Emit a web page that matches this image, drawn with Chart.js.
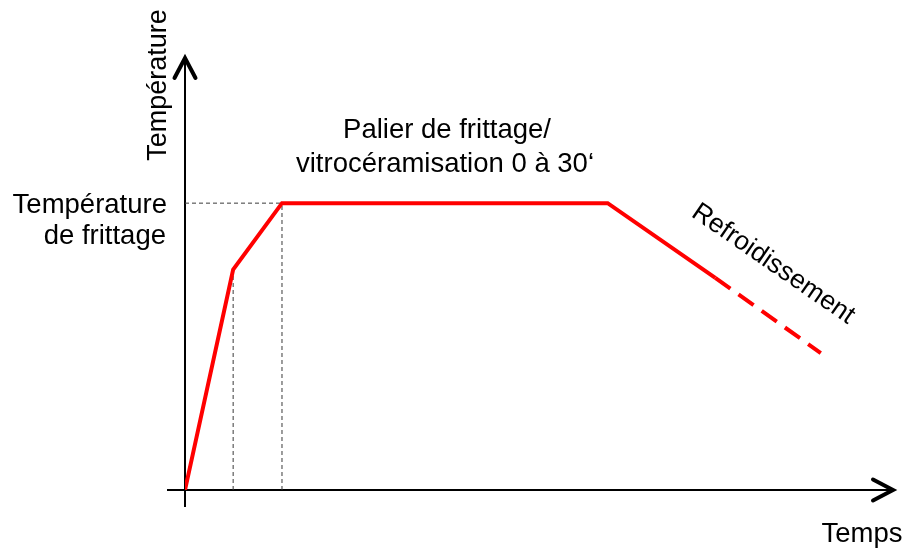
<!DOCTYPE html>
<html>
<head>
<meta charset="utf-8">
<script src="https://cdn.jsdelivr.net/npm/chart.js@4"></script>
<style>
  html, body { margin: 0; padding: 0; background: #fff; }
  #wrap { width: 907px; height: 550px; }
</style>
</head>
<body>
<div id="wrap"><canvas id="cycleChart" width="907" height="550"></canvas></div>
<script>
// cycle thermique (unités arbitraires : temps 0-100, température 0-100)
const tempsCycle = [0, 6.8, 13.7, 59.7, 74.9];
const tempCycle = [0, 51, 66.4, 66.4, 49.1];
const tempsRefroid = [74.9, 89.8];
const tempRefroid = [49.1, 31.7];
const tempsMax = 100;
const tempMax = 100;

const FONT = '"Liberation Sans", Arial, sans-serif';

const pts = (xs, ys) => xs.map((x, i) => ({ x: x, y: ys[i] }));

// lignes de rappel pointillées
const rappel1 = pts([tempsCycle[1], tempsCycle[1]], [0, tempCycle[1]]);
const rappel2 = pts([tempsCycle[2], tempsCycle[2]], [0, tempCycle[2]]);
const rappelH = pts([0, tempsCycle[2]], [tempCycle[2], tempCycle[2]]);

const guide = (data) => ({
    data: data,
    borderColor: '#3a3a3a',
    borderWidth: 1,
    borderDash: [4, 3],
    pointRadius: 0,
    order: 5
});

function arrowHead(ctx, x, y, dir) {
    ctx.save();
    ctx.lineWidth = 4;
    ctx.lineCap = 'round';
    ctx.lineJoin = 'miter';
    ctx.beginPath();
    if (dir === 'up') {
        ctx.moveTo(x - 10.5, y + 20);
        ctx.lineTo(x, y);
        ctx.lineTo(x + 10.5, y + 20);
    } else {
        ctx.moveTo(x - 20, y - 10.5);
        ctx.lineTo(x, y);
        ctx.lineTo(x - 20, y + 10.5);
    }
    ctx.stroke();
    ctx.restore();
}

function texteTourne(ctx, txt, x, y, angleDeg) {
    ctx.save();
    ctx.translate(x, y);
    ctx.rotate(angleDeg * Math.PI / 180);
    ctx.textAlign = 'center';
    ctx.fillText(txt, 0, 0);
    ctx.restore();
}

const axesEtTextes = {
    id: 'axesEtTextes',
    beforeDatasetsDraw(chart) {
        const ctx = chart.ctx;
        const sx = chart.scales.x, sy = chart.scales.y;
        const x0 = sx.getPixelForValue(0), y0 = sy.getPixelForValue(0);
        const xEnd = sx.getPixelForValue(tempsMax), yEnd = sy.getPixelForValue(tempMax);
        ctx.save();
        ctx.strokeStyle = '#000';
        ctx.lineWidth = 2;
        ctx.beginPath();
        ctx.moveTo(x0, y0 + 17);
        ctx.lineTo(x0, yEnd + 2);
        ctx.moveTo(x0 - 18, y0);
        ctx.lineTo(xEnd - 2, y0);
        ctx.stroke();
        arrowHead(ctx, x0, yEnd, 'up');
        arrowHead(ctx, xEnd, y0, 'right');
        ctx.restore();
    },
    afterDraw(chart) {
        const ctx = chart.ctx;
        ctx.save();
        ctx.fillStyle = '#000';
        ctx.font = '27.5px ' + FONT;
        ctx.textBaseline = 'alphabetic';

        ctx.textAlign = 'right';
        ctx.fillText('Température', 167, 213);
        ctx.fillText('de frittage', 166, 244);

        ctx.textAlign = 'center';
        ctx.fillText('Palier de frittage/', 447, 138);
        ctx.fillText('vitrocéramisation 0 à 30‘', 445, 172);
        ctx.fillText('Temps', 862, 542);

        ctx.font = '27px ' + FONT;
        texteTourne(ctx, 'Température', 166, 85, -90);

        ctx.font = '26.5px ' + FONT;
        texteTourne(ctx, 'Refroidissement', 769, 270, 34.6);

        ctx.restore();
    }
};

new Chart(document.getElementById('cycleChart').getContext('2d'), {
    type: 'line',
    data: {
        datasets: [
            {
                data: pts(tempsCycle, tempCycle),
                borderColor: '#ff0000',
                borderWidth: 4,
                borderJoinStyle: 'miter',
                pointRadius: 0,
                order: 1
            },
            {
                data: pts(tempsRefroid, tempRefroid),
                borderColor: '#ff0000',
                borderWidth: 4,
                borderDash: [18.5, 10],
                pointRadius: 0,
                order: 1
            },
            guide(rappel1),
            guide(rappel2),
            guide(rappelH)
        ]
    },
    options: {
        responsive: false,
        animation: false,
        events: [],
        layout: { padding: { left: 185, right: 14, top: 58, bottom: 60 } },
        scales: {
            x: { type: 'linear', min: 0, max: tempsMax, display: false },
            y: { type: 'linear', min: 0, max: tempMax, display: false }
        },
        elements: { line: { tension: 0 } },
        plugins: {
            legend: { display: false },
            tooltip: { enabled: false }
        }
    },
    plugins: [axesEtTextes]
});
</script>
</body>
</html>
